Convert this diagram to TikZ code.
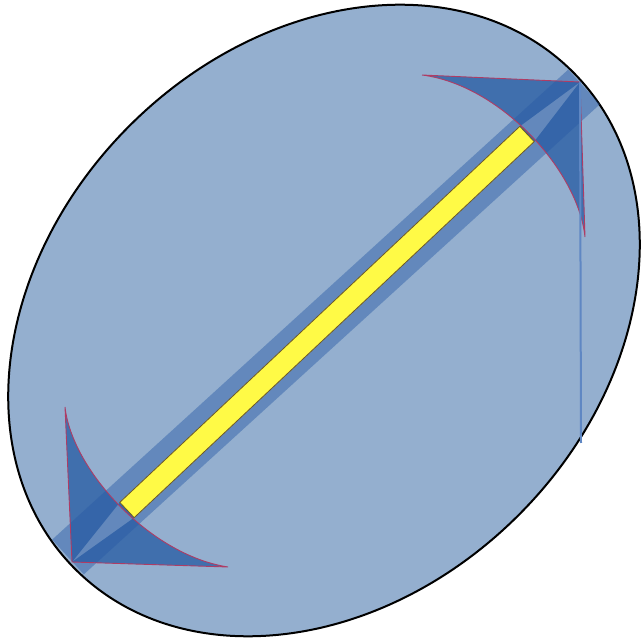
\documentclass[tikz,border=0pt]{standalone}
\usetikzlibrary{calc}
\definecolor{ellfill}{RGB}{148,175,207}
\definecolor{bandcol}{RGB}{40,90,165}
\definecolor{headfill}{RGB}{50,100,168}
\definecolor{headline}{RGB}{175,60,100}
\definecolor{barfill}{RGB}{255,250,70}
\definecolor{barline}{RGB}{110,90,40}
\definecolor{vlinecol}{RGB}{95,135,195}
\tikzset{
  ellstyle/.style={fill=ellfill, draw=black, line width=2pt},
  bandstyle/.style={draw=bandcol, draw opacity=0.45, line width=47pt, line cap=butt},
  headstyle/.style={fill=headfill, fill opacity=0.85, even odd rule},
  headedge/.style={draw=headline, line width=0.9pt, line join=miter},
  barstyle/.style={fill=barfill, draw=barline, line width=0.8pt},
  vlinestyle/.style={draw=vlinecol, line width=2pt}
}
\begin{document}
\begin{tikzpicture}[x=1pt,y=1pt]
\useasboundingbox (0,0) rectangle (641,641);
% named coordinates
\coordinate (C) at (324,320.5);
\coordinate (B1) at (68,84);
\coordinate (B2) at (584,554);
\coordinate (Y1) at (127,131);
\coordinate (Y2) at (527,507);
\coordinate (LLtip) at (72,79);
\coordinate (LLa) at (65,234);
\coordinate (LLb) at (228,74);
\coordinate (URtip) at (580,559);
\coordinate (URa) at (422,566);
\coordinate (URb) at (585,404);
\coordinate (Vend) at (581,198);
\coordinate (Y1a) at ($(Y1)!10.5pt!90:(Y2)$);
\coordinate (Y1b) at ($(Y1)!10.5pt!-90:(Y2)$);
\coordinate (Y2a) at ($(Y2)!10.5pt!-90:(Y1)$);
\coordinate (Y2b) at ($(Y2)!10.5pt!90:(Y1)$);
% ellipse
\path[ellstyle, rotate around={45:(C)}] (C) ellipse [x radius=351.7, y radius=275.2];
% arrowheads
\path[headstyle] (LLa) -- (LLtip) -- (LLb) .. controls (150,86) and (72,171) .. (LLa) -- cycle
  (LLtip) -- (Y1a) -- (Y1b) -- cycle;
\path[headstyle] (URa) -- (URtip) -- (URb) .. controls (578,471) and (500,556) .. (URa) -- cycle
  (URtip) -- (Y2a) -- (Y2b) -- cycle;
% band
\path[bandstyle] (B1) -- (B2);
% arrowhead outlines
\path[headedge] (LLa) -- (LLtip) -- (LLb) .. controls (150,86) and (72,171) .. (LLa);
\path[headedge] (URa) -- (URtip) -- (URb) .. controls (578,471) and (500,556) .. (URa);
% yellow bar
\path[barstyle] (Y1a) -- (Y2a) -- (Y2b) -- (Y1b) -- cycle;
% vertical line
\path[vlinestyle] (URtip) -- (Vend);
\end{tikzpicture}
\end{document}
